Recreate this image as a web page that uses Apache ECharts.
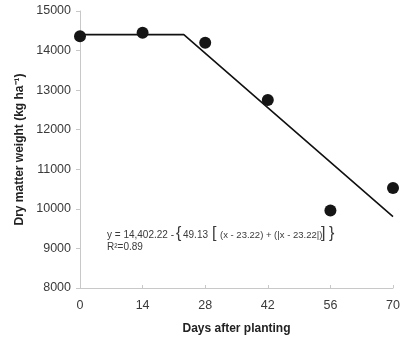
<!DOCTYPE html>
<html>
<head>
<meta charset="utf-8">
<script src="https://cdn.jsdelivr.net/npm/echarts@6/dist/echarts.min.js"></script>
<style>
  html, body { margin: 0; padding: 0; background: #fff; }
  #chart { width: 409px; height: 342px; }
</style>
</head>
<body>
<div id="chart"></div>
<script>
// observed points
var days = [0, 14, 28, 42, 56, 70];
var dryMatter = [14360, 14450, 14200, 12750, 9960, 10530];
// fitted plateau-linear model: breakpoints
var fitDays = [0, 23.22, 70];
var fitWeight = [14402.22, 14402.22, 9805.6];

var chart = echarts.init(document.getElementById('chart'));

var axisGray = '#c8c8c8';
var textCol = '#3a3a3a';
var eqFont = 'Liberation Sans';

// little helper for the equation pieces
function eq(txt, x, y, size) {
  return {
    type: 'text',
    x: x, y: y,
    style: { text: txt, font: size + 'px "' + eqFont + '"', fill: textCol, align: 'left', verticalAlign: 'middle' }
  };
}

chart.setOption({
  animation: false,
  grid: { left: 80, right: 16, top: 11, bottom: 54 },
  xAxis: {
    type: 'value',
    min: 0, max: 70, interval: 14,
    name: 'Days after planting',
    nameLocation: 'middle',
    nameGap: 35,
    nameTextStyle: { fontFamily: 'Liberation Sans', fontWeight: 'bold', fontSize: 12, color: '#222' },
    axisLine: { show: true, lineStyle: { color: axisGray } },
    axisTick: { show: true, length: 3, inside: true, lineStyle: { color: axisGray } },
    axisLabel: { fontFamily: 'Liberation Sans', fontSize: 12.5, color: textCol, margin: 11 },
    splitLine: { show: false }
  },
  yAxis: {
    type: 'value',
    min: 8000, max: 15000, interval: 1000,
    name: 'Dry matter weight (kg ha⁻¹)',
    nameLocation: 'middle',
    nameGap: 53,
    nameTextStyle: { fontFamily: 'Liberation Sans', fontWeight: 'bold', fontSize: 12, color: '#222' },
    axisLine: { show: true, lineStyle: { color: axisGray } },
    axisTick: { show: true, length: 4, lineStyle: { color: axisGray } },
    axisLabel: { fontFamily: 'Liberation Sans', fontSize: 12.5, color: textCol, margin: 9,
      formatter: function (v) { return String(v); } },
    splitLine: { show: false }
  },
  series: [
    {
      type: 'line',
      data: fitDays.map(function (d, i) { return [d, fitWeight[i]]; }),
      showSymbol: false,
      lineStyle: { color: '#111', width: 1.6 },
      z: 2
    },
    {
      type: 'scatter',
      data: days.map(function (d, i) { return [d, dryMatter[i]]; }),
      symbol: 'circle',
      symbolSize: 12,
      itemStyle: { color: '#151515', opacity: 1 },
      z: 3
    }
  ],
  graphic: [
    eq('y = 14,402.22 -', 107, 235, 10),
    eq('{', 176, 234, 16),
    eq('49.13', 183, 235, 10),
    eq('[', 212, 234, 16),
    eq('(x - 23.22) + (|x - 23.22|)', 220, 235, 9.5),
    eq(']', 321, 234, 16),
    eq('}', 329, 234, 16),
    eq('R²=0.89', 107, 247, 10)
  ]
});
</script>
</body>
</html>
